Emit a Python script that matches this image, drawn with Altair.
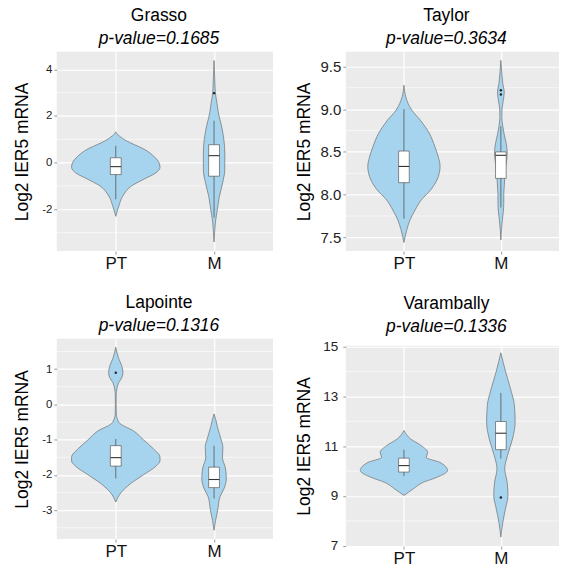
import altair as alt
import pandas as pd

FONT = "Liberation Sans"
FILL = "#A6D4EE"
OUTLINE = "#6E6E6E"

# ---------------- data ----------------
# Grasso
g_pt_y = [-2.3, -1.87, -1.44, -1.0, -0.72, -0.43, -0.2, 0.0, 0.26, 0.55, 0.85, 0.98, 1.1, 1.2, 1.32]
g_pt_w = [0.0, 0.03, 0.07, 0.16, 0.28, 0.41, 0.45, 0.44, 0.39, 0.30, 0.15, 0.09, 0.05, 0.02, 0.0]
g_m_y = [-3.4, -3.0, -2.55, -2.0, -1.45, -0.85, -0.3, 0.42, 0.98, 1.53, 2.13, 2.55, 2.98, 3.5, 4.38]
g_m_w = [0.0, 0.006, 0.014, 0.034, 0.054, 0.088, 0.109, 0.109, 0.10, 0.078, 0.044, 0.03, 0.014, 0.008, 0.0]
g_box = {"PT": [-1.57, -0.51, -0.17, 0.21, 0.72], "M": [-2.35, -0.58, 0.30, 0.77, 1.80]}
g_out = {"PT": [], "M": [2.98]}

# Taylor
t_pt_y = [7.44, 7.59, 7.71, 7.82, 7.94, 8.06, 8.17, 8.33, 8.44, 8.56, 8.72, 8.87, 8.99, 9.14, 9.28]
t_pt_w = [0.0, 0.03, 0.065, 0.115, 0.18, 0.28, 0.34, 0.373, 0.355, 0.32, 0.26, 0.17, 0.08, 0.02, 0.0]
t_m_y = [7.47, 7.6, 7.7, 7.8, 7.9, 8.0, 8.1, 8.2, 8.3, 8.4, 8.5, 8.6, 8.7, 8.8, 8.9, 9.0, 9.1, 9.2, 9.3, 9.45, 9.57]
t_m_w = [0.0, 0.007, 0.015, 0.025, 0.03, 0.03, 0.035, 0.04, 0.045, 0.06, 0.065, 0.055, 0.035, 0.02, 0.01, 0.012, 0.025, 0.035, 0.02, 0.008, 0.0]
t_box = {"PT": [7.72, 8.14, 8.33, 8.51, 9.00], "M": [7.85, 8.19, 8.46, 8.50, 8.80]}
t_out = {"PT": [], "M": [9.17, 9.22]}

# Lapointe
l_pt_y = [-2.77, -2.5, -2.25, -2.0, -1.75, -1.6, -1.5, -1.25, -1.0, -0.75, -0.55, -0.4, -0.3, 0.0, 0.3, 0.45, 0.62, 0.75, 0.91, 1.1, 1.3, 1.62]
l_pt_w = [0.0, 0.054, 0.15, 0.28, 0.41, 0.45, 0.45, 0.38, 0.28, 0.18, 0.045, 0.015, 0.006, 0.004, 0.005, 0.012, 0.03, 0.06, 0.073, 0.06, 0.03, 0.0]
l_m_y = [-3.57, -3.3, -3.0, -2.62, -2.4, -2.1, -1.8, -1.5, -1.22, -0.98, -0.65, -0.46, -0.27]
l_m_w = [0.0, 0.015, 0.037, 0.06, 0.10, 0.125, 0.115, 0.085, 0.09, 0.07, 0.035, 0.02, 0.0]
l_box = {"PT": [-2.10, -1.75, -1.51, -1.17, -0.98], "M": [-2.67, -2.36, -2.13, -1.78, -1.17]}
l_out = {"PT": [0.90], "M": []}

# Varambally
v_pt_y = [9.02, 9.28, 9.55, 9.75, 10.02, 10.35, 10.55, 10.75, 11.02, 11.29, 11.63]
v_pt_w = [0.0, 0.094, 0.20, 0.34, 0.45, 0.37, 0.23, 0.245, 0.18, 0.069, 0.0]
v_m_y = [7.35, 7.94, 8.48, 9.01, 9.55, 10.09, 10.62, 11.29, 11.96, 12.63, 13.3, 13.97, 14.75]
v_m_w = [0.0, 0.02, 0.047, 0.073, 0.065, 0.04, 0.068, 0.12, 0.147, 0.14, 0.10, 0.05, 0.0]
v_box = {"PT": [9.80, 9.96, 10.22, 10.52, 10.86], "M": [10.50, 10.86, 11.52, 11.99, 13.14]}
v_out = {"PT": [], "M": [8.94]}

groups = ["PT", "M"]
centers = {"PT": 1, "M": 2}


def panel(name, pval, pt_y, pt_w, m_y, m_w, box, outl, domain, majors, minors,
          fmt, tick_fs, width, height, ext, tpad, lpad):
    vrows = []
    for g, ys, ws in (("PT", pt_y, pt_w), ("M", m_y, m_w)):
        for y, w in zip(ys, ws):
            vrows.append({"grp": g, "c": centers[g], "y": y, "w": w})
    vdf = pd.DataFrame(vrows)
    brows = []
    for g in groups:
        lo, q1, med, q3, hi = box[g]
        brows.append({"grp": g, "c": centers[g], "lo": lo, "q1": q1, "med": med, "q3": q3, "hi": hi})
    bdf = pd.DataFrame(brows)
    orows = [{"grp": g, "c": centers[g], "v": v} for g in groups for v in outl[g]]
    odf = pd.DataFrame(orows if orows else [{"grp": "M", "c": 2, "v": None}])
    mdf = pd.DataFrame({"v": minors})

    xscale = alt.Scale(domain=[0.4, 2.6], nice=False, zero=False)
    yscale = alt.Scale(domain=domain, nice=False, zero=False)
    xaxis = alt.Axis(values=[1, 2], labelExpr="datum.value == 1 ? 'PT' : 'M'", title=None,
                     grid=True, gridColor="white", gridWidth=1.2, domain=False,
                     tickColor="#9A9A9A", tickSize=3, labelPadding=1, labelFontSize=17,
                     labelColor="#111111", labelFont=FONT)
    if fmt == "f1":
        lexpr = "format(datum.value, '.1f')"
    else:
        lexpr = "'' + datum.value"
    yaxis = alt.Axis(values=majors, labelExpr=lexpr, title="Log2 IER5 mRNA",
                     grid=True, gridColor="white", gridWidth=1.2, domain=False,
                     tickColor="#9A9A9A", tickSize=3, labelPadding=lpad,
                     labelFontSize=tick_fs, labelColor="#222222", labelFont=FONT,
                     titleFontSize=17.5, titleFont=FONT, titleFontWeight="normal",
                     titleColor="black", titlePadding=tpad, minExtent=ext, maxExtent=ext)

    base_v = alt.Chart(vdf)
    minor = alt.Chart(mdf).mark_rule(color="white", strokeWidth=0.6).encode(
        y=alt.Y("v:Q", scale=yscale, axis=yaxis))
    violin = base_v.transform_calculate(
        xl="datum.c - datum.w", xr="datum.c + datum.w"
    ).mark_area(orient="horizontal", fill=FILL, stroke=OUTLINE, strokeWidth=0.7,
                interpolate="monotone").encode(
        y=alt.Y("y:Q", scale=yscale, axis=yaxis),
        x=alt.X("xl:Q", scale=xscale, axis=xaxis),
        x2="xr:Q",
        detail="grp:N",
    )
    bb = alt.Chart(bdf).transform_calculate(bl="datum.c - 0.055", br="datum.c + 0.055")
    whisk = bb.mark_rule(color="#555555", strokeWidth=0.8).encode(
        x=alt.X("c:Q", scale=xscale, axis=xaxis),
        y=alt.Y("lo:Q", scale=yscale, axis=yaxis), y2="hi:Q")
    rect = bb.mark_rect(fill="white", stroke="#5A5A5A", strokeWidth=0.7).encode(
        x=alt.X("bl:Q", scale=xscale, axis=xaxis), x2="br:Q",
        y=alt.Y("q1:Q", scale=yscale, axis=yaxis), y2="q3:Q")
    medl = bb.mark_rule(color="#333333", strokeWidth=1.1).encode(
        x=alt.X("bl:Q", scale=xscale, axis=xaxis), x2="br:Q",
        y=alt.Y("med:Q", scale=yscale, axis=yaxis))
    pts = alt.Chart(odf).mark_circle(size=6, color="#222222", opacity=1).encode(
        x=alt.X("c:Q", scale=xscale, axis=xaxis),
        y=alt.Y("v:Q", scale=yscale, axis=yaxis))

    return alt.layer(minor, violin, whisk, rect, medl, pts).properties(
        width=width, height=height,
        title=alt.TitleParams(text=name, subtitle=pval, font=FONT, fontSize=17.5,
                              fontWeight="normal", color="black",
                              subtitleFont=FONT, subtitleFontSize=17.5,
                              subtitleFontStyle="italic", subtitleColor="black",
                              subtitlePadding=6, offset=4, anchor="middle",
                              frame="group", dx=-6),
    )


G = panel("Grasso", "p-value=0.1685", g_pt_y, g_pt_w, g_m_y, g_m_w, g_box, g_out,
          [-3.79, 4.75], [-2, 0, 2, 4], [-3, -1, 1, 3], "int", 11.5, 217, 200, 14, 11, 2)
T = panel("Taylor", "p-value=0.3634", t_pt_y, t_pt_w, t_m_y, t_m_w, t_box, t_out,
          [7.34, 9.67], [7.5, 8.0, 8.5, 9.0, 9.5], [7.75, 8.25, 8.75, 9.25], "f1", 15, 214, 200, 27, 5, 2)
L = panel("Lapointe", "p-value=0.1316", l_pt_y, l_pt_w, l_m_y, l_m_w, l_box, l_out,
          [-3.82, 1.86], [-3, -2, -1, 0, 1], [-3.5, -2.5, -1.5, -0.5, 0.5, 1.5], "int", 11.5, 217, 201, 14, 11, 2)
V = panel("Varambally", "p-value=0.1336", v_pt_y, v_pt_w, v_m_y, v_m_w, v_box, v_out,
          [6.99, 15.03], [7, 9, 11, 13, 15], [8, 10, 12, 14], "int", 13.5, 214, 201, 27, 5, 5)

left = alt.vconcat(G, L, spacing=23)
right = alt.vconcat(T, V, spacing=23)
chart = alt.hconcat(left, right, spacing=22).properties(
    padding={"left": 14, "top": 6, "right": 5, "bottom": 0}
).configure(font=FONT).configure_view(fill="#EBEBEB", strokeWidth=0)

chart.save("out.html", embed_options={"renderer": "svg", "actions": False})
